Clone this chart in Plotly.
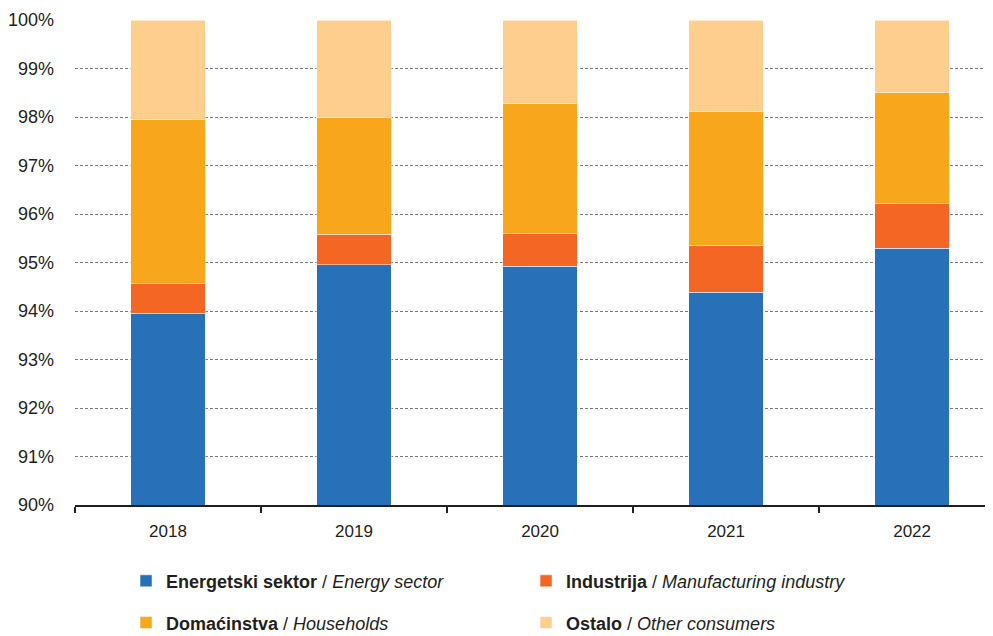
import plotly.graph_objects as go

years = ["2018", "2019", "2020", "2021", "2022"]
energy = [93.95, 94.95, 94.92, 94.39, 95.29]
industry = [0.61, 0.63, 0.67, 0.97, 0.92]
households = [3.38, 2.42, 2.68, 2.76, 2.29]
other = [2.06, 2.00, 1.73, 1.88, 1.50]

series = [
    ("<b>Energetski sektor</b> / <i>Energy sector</i>", energy, "#2870B7", "legend"),
    ("<b>Industrija</b> / <i>Manufacturing industry</i>", industry, "#F36624", "legend"),
    ("<b>Domaćinstva</b> / <i>Households</i>", households, "#F8A61C", "legend2"),
    ("<b>Ostalo</b> / <i>Other consumers</i>", other, "#FECE8F", "legend2"),
]

fig = go.Figure()
for name, vals, color, lg in series:
    fig.add_trace(go.Bar(
        x=years, y=vals, name=name, width=0.4,
        marker=dict(color=color, line=dict(color="rgba(255,255,255,0.5)", width=1)),
        legend=lg,
    ))

font_color = "#231F20"
fig.update_layout(
    barmode="stack",
    width=985, height=628,
    margin=dict(l=67, r=0, t=12, b=131, autoexpand=False),
    paper_bgcolor="white", plot_bgcolor="white",
    font=dict(family="Liberation Sans, Arial, sans-serif", color=font_color, size=17),
    xaxis=dict(
        range=[-0.5, 4.435], showgrid=False, showline=True, linecolor="#231F20", linewidth=2,
        ticks="outside", tickson="boundaries", ticklen=6, tickcolor="#231F20", tickwidth=1.5,
        tickfont=dict(size=17), ticklabelstandoff=10,
    ),
    yaxis=dict(
        range=[90, 100], tickvals=[90, 91, 92, 93, 94, 95, 96, 97, 98, 99, 100],
        ticktext=[f"{v}%" for v in range(90, 101)],
        showgrid=True, gridcolor="#7a7a7a", gridwidth=1, griddash="3px,2px",
        zeroline=False, showline=False, ticks="", ticklabelstandoff=20,
        tickfont=dict(size=18),
    ),
    legend=dict(
        orientation="h", traceorder="normal", x=0.0556, xanchor="left", y=-0.157, yanchor="middle",
        entrywidth=355, entrywidthmode="pixels", font=dict(size=18),
        bgcolor="rgba(0,0,0,0)",
    ),
    legend2=dict(
        orientation="h", traceorder="normal", x=0.0556, xanchor="left", y=-0.243, yanchor="middle",
        entrywidth=355, entrywidthmode="pixels", font=dict(size=18),
        bgcolor="rgba(0,0,0,0)",
    ),
)

fig.write_html("out.html")
